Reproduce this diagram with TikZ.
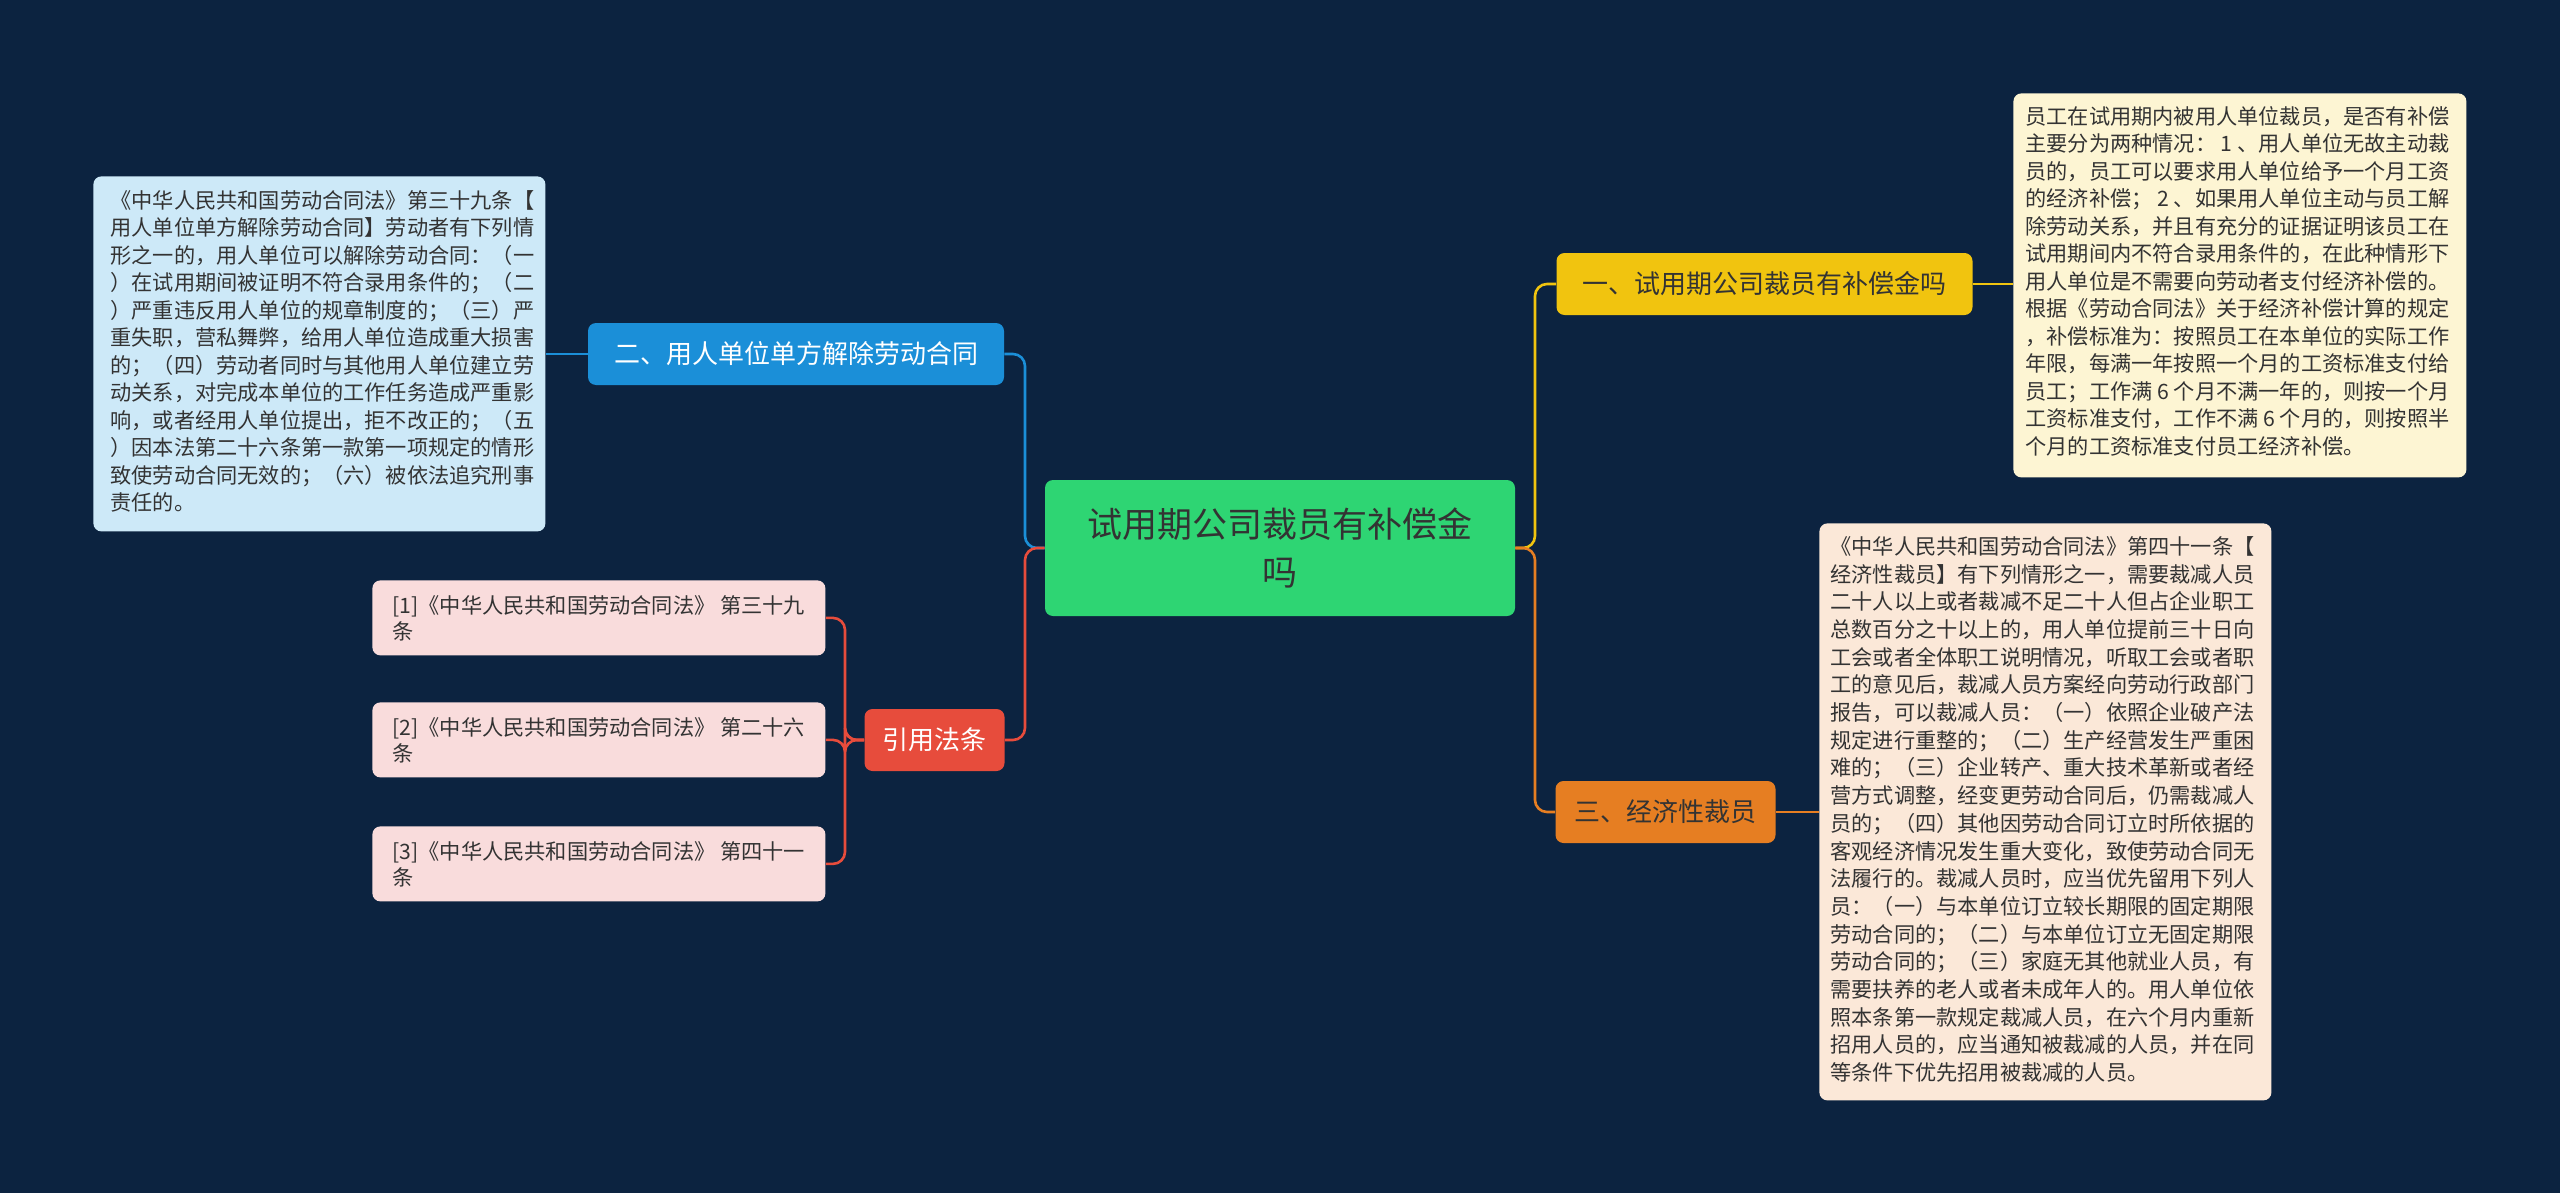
\documentclass[tikz,border=0pt]{standalone}
\usepackage{fontspec}
\setmainfont{Noto Sans CJK SC}
\usetikzlibrary{positioning}
\definecolor{bgnavy}{HTML}{0C2340}
\definecolor{rootgreen}{HTML}{2ED573}
\definecolor{yel}{HTML}{F1C40F}
\definecolor{ora}{HTML}{E67E22}
\definecolor{blu}{HTML}{1B8FD8}
\definecolor{redd}{HTML}{E74C3C}
\definecolor{boxblue}{HTML}{CDE9F8}
\definecolor{boxcream}{HTML}{FDF5D3}
\definecolor{boxpeach}{HTML}{FBE8D8}
\definecolor{boxpink}{HTML}{F9DCDC}
\definecolor{txt}{HTML}{333333}
\begin{document}
\begin{tikzpicture}[x=0.5pt,y=-0.5pt]
\tikzstyle{topic} = [rounded corners=4pt, inner sep=0pt, font=\fontsize{13}{15}\selectfont] % branch style
\tikzstyle{note} = [rounded corners=4pt, inner sep=0pt, anchor=north west, text=txt, align=left, font=\fontsize{10.6}{13.75}\selectfont] % text box style
\tikzstyle{link} = [line width=1.3pt, rounded corners=6pt]
\fill[bgnavy] (0,0) rectangle (2560,1193);
%
\node[fill=rootgreen, rounded corners=4pt, minimum width=235pt, minimum height=68pt, align=center, text=txt, font=\fontsize{17.5}{24}\selectfont] (root) at (1280,548) {试用期公司裁员有补偿金\\吗};
\node[topic, fill=yel, text=txt, minimum width=208pt, minimum height=31pt] (b1) at (1764.5,284) {一、试用期公司裁员有补偿金吗};
\node[topic, fill=ora, text=txt, minimum width=110pt, minimum height=31pt] (b3) at (1665.5,812) {三、经济性裁员};
\node[topic, fill=blu, text=white, minimum width=208pt, minimum height=31pt] (b2) at (796,354) {二、用人单位单方解除劳动合同};
\node[topic, fill=redd, text=white, minimum width=70pt, minimum height=31pt] (cite) at (934.5,740) {引用法条};
%
\node[note, fill=boxblue, minimum width=226pt, minimum height=177.5pt, text depth=0pt] (n2) at (93,176) {};
\node[anchor=north west, text=txt, align=left, font=\fontsize{10.6}{13.75}\selectfont, inner sep=0pt] at (110,190) {《中华人民共和国劳动合同法》第三十九条【\\用人单位单方解除劳动合同】劳动者有下列情\\形之一的，用人单位可以解除劳动合同：（一\\）在试用期间被证明不符合录用条件的；（二\\）严重违反用人单位的规章制度的；（三）严\\重失职，营私舞弊，给用人单位造成重大损害\\的；（四）劳动者同时与其他用人单位建立劳\\动关系，对完成本单位的工作任务造成严重影\\响，或者经用人单位提出，拒不改正的；（五\\）因本法第二十六条第一款第一项规定的情形\\致使劳动合同无效的；（六）被依法追究刑事\\责任的。};
\node[note, fill=boxcream, minimum width=226.5pt, minimum height=192pt] (n1) at (2013,93) {};
\node[anchor=north west, text=txt, align=left, font=\fontsize{10.6}{13.75}\selectfont, inner sep=0pt] at (2025,106) {员工在试用期内被用人单位裁员，是否有补偿\\主要分为两种情况： 1 、用人单位无故主动裁\\员的，员工可以要求用人单位给予一个月工资\\的经济补偿； 2 、如果用人单位主动与员工解\\除劳动关系，并且有充分的证据证明该员工在\\试用期间内不符合录用条件的，在此种情形下\\用人单位是不需要向劳动者支付经济补偿的。\\根据《劳动合同法》关于经济补偿计算的规定\\，补偿标准为：按照员工在本单位的实际工作\\年限，每满一年按照一个月的工资标准支付给\\员工；工作满 6 个月不满一年的，则按一个月\\工资标准支付，工作不满 6 个月的，则按照半\\个月的工资标准支付员工经济补偿。};
\node[note, fill=boxpeach, minimum width=226pt, minimum height=288.5pt] (n3) at (1819,523) {};
\node[anchor=north west, text=txt, align=left, font=\fontsize{10.6}{13.85}\selectfont, inner sep=0pt] at (1830,536) {《中华人民共和国劳动合同法》第四十一条【\\经济性裁员】有下列情形之一，需要裁减人员\\二十人以上或者裁减不足二十人但占企业职工\\总数百分之十以上的，用人单位提前三十日向\\工会或者全体职工说明情况，听取工会或者职\\工的意见后，裁减人员方案经向劳动行政部门\\报告，可以裁减人员：（一）依照企业破产法\\规定进行重整的；（二）生产经营发生严重困\\难的；（三）企业转产、重大技术革新或者经\\营方式调整，经变更劳动合同后，仍需裁减人\\员的；（四）其他因劳动合同订立时所依据的\\客观经济情况发生重大变化，致使劳动合同无\\法履行的。裁减人员时，应当优先留用下列人\\员：（一）与本单位订立较长期限的固定期限\\劳动合同的；（二）与本单位订立无固定期限\\劳动合同的；（三）家庭无其他就业人员，有\\需要扶养的老人或者未成年人的。用人单位依\\照本条第一款规定裁减人员，在六个月内重新\\招用人员的，应当通知被裁减的人员，并在同\\等条件下优先招用被裁减的人员。};
%
\foreach \i/\y/\t in {1/580/{[1]《中华人民共和国劳动合同法》 第三十九\\条}, 2/702/{[2]《中华人民共和国劳动合同法》 第二十六\\条}, 3/826/{[3]《中华人民共和国劳动合同法》 第四十一\\条}}
  \node[note, fill=boxpink, minimum width=226.5pt, minimum height=37.5pt, inner xsep=5pt, inner ysep=0pt, text depth=0pt, anchor=north west, font=\fontsize{10.6}{13}\selectfont] (r\i) at (372,\y) {\raisebox{-4pt}{}\t};
%
\draw[link, yel] (root.east) -- (1535,548) |- (b1.west);
\draw[link, ora] (root.east) -- (1535,548) |- (b3.west);
\draw[link, blu] (root.west) -- (1025,548) |- (b2.east);
\draw[link, redd] (root.west) -- (1025,548) |- (cite.east);
\draw[link, yel] (b1.east) -- (n1.west |- b1.east);
\draw[link, ora] (b3.east) -- (n3.west |- b3.east);
\draw[link, blu] (b2.west) -- (n2.east |- b2.west);
\foreach \i in {1,2,3}
  \draw[link, redd] (cite.west) -- (845,740) |- (r\i.east);
\end{tikzpicture}
\end{document}
